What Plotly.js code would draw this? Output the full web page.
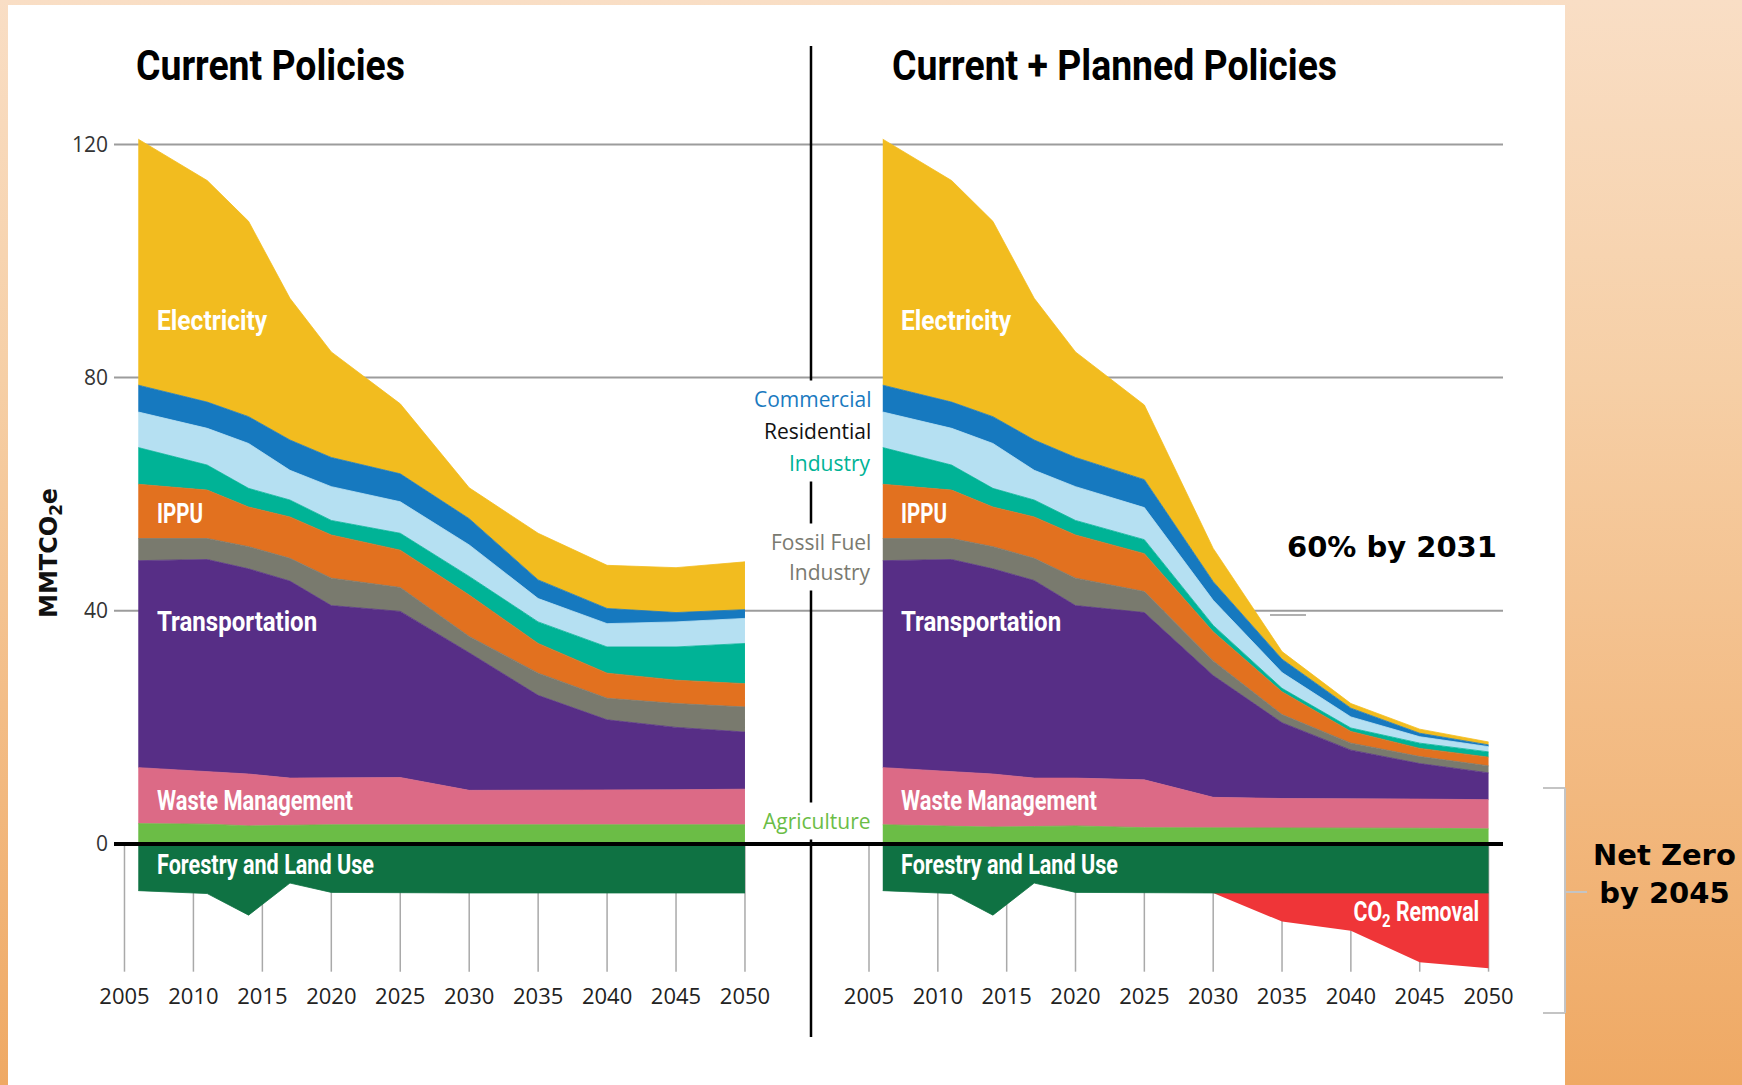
<!DOCTYPE html>
<html>
<head>
<meta charset="utf-8">
<script src="https://cdn.plot.ly/plotly-3.0.1.min.js"></script>
<style>
  html, body { margin: 0; padding: 0; width: 1742px; height: 1085px; overflow: hidden;
    background: linear-gradient(to bottom, #f9dec5 0%, #f6cfa6 35%, #f3bd87 65%, #efa964 100%); }
  #chart { width: 1742px; height: 1085px; }
</style>
</head>
<body>
<div id="chart"></div>
<script>
// ---------------- DATA ----------------
const years = [2006, 2011, 2014, 2017, 2020, 2025, 2030, 2035, 2040, 2045, 2050];
const tickYears = [2005, 2010, 2015, 2020, 2025, 2030, 2035, 2040, 2045, 2050];
const tickLabels = ['2005', '2010', '2015', '2020', '2025', '2030', '2035', '2040', '2045', '2050'];
const yTicks = [0, 40, 80, 120];
const panelTitles = ['Current Policies', 'Current + Planned Policies'];

// Current Policies (MMTCO2e per sector)
const cpAgriculture    = [3.5, 3.4, 3.1, 3.2, 3.3, 3.3, 3.3, 3.3, 3.3, 3.3, 3.3];
const cpWaste          = [9.6, 9.0, 8.9, 8.1, 8.0, 8.1, 5.9, 5.9, 5.9, 6.0, 6.1];
const cpTransportation = [35.5, 36.4, 35.2, 33.8, 29.6, 28.5, 23.6, 16.3, 12.1, 10.7, 9.8];
const cpFossilFuel     = [3.8, 3.6, 3.8, 3.9, 4.7, 4.1, 2.8, 3.8, 3.7, 4.1, 4.3];
const cpIPPU           = [9.3, 8.3, 6.8, 7.1, 7.4, 6.4, 7.1, 5.1, 4.3, 4.0, 4.0];
const cpIndustry       = [6.3, 4.3, 3.2, 2.9, 2.5, 2.9, 3.2, 3.7, 4.5, 5.7, 6.9];
const cpResidential    = [6.1, 6.3, 7.7, 5.1, 5.8, 5.4, 5.4, 4.0, 4.0, 4.3, 4.3];
const cpCommercial     = [4.6, 4.5, 4.6, 5.2, 5.0, 4.8, 4.5, 3.2, 2.6, 1.6, 1.5];
const cpElectricity    = [42.2, 38.0, 33.5, 24.3, 18.1, 12.0, 5.3, 8.0, 7.4, 7.7, 8.2];
const cpForestry       = [-8.0, -8.5, -12.2, -6.7, -8.3, -8.4, -8.4, -8.4, -8.4, -8.4, -8.4];

// Current + Planned Policies
const ppAgriculture    = [3.3, 3.1, 2.9, 3.0, 3.1, 2.8, 2.8, 2.7, 2.7, 2.7, 2.6];
const ppWaste          = [9.8, 9.3, 9.1, 8.3, 8.2, 8.2, 5.2, 5.1, 5.1, 5.0, 5.0];
const ppTransportation = [35.5, 36.4, 35.2, 33.9, 29.6, 28.7, 20.9, 13.0, 8.3, 6.1, 4.6];
const ppFossilFuel     = [3.8, 3.6, 3.8, 3.8, 4.7, 3.6, 2.5, 1.4, 1.2, 1.2, 1.2];
const ppIPPU           = [9.3, 8.3, 6.8, 7.1, 7.4, 6.5, 5.0, 3.9, 2.0, 1.4, 1.5];
const ppIndustry       = [6.3, 4.3, 3.2, 2.9, 2.5, 2.4, 1.1, 0.6, 0.6, 0.9, 0.9];
const ppResidential    = [6.1, 6.3, 7.7, 5.1, 5.8, 5.5, 4.3, 2.7, 1.9, 1.1, 0.9];
const ppCommercial     = [4.6, 4.5, 4.6, 5.2, 5.0, 4.8, 3.2, 2.3, 1.5, 0.6, 0.3];
const ppElectricity    = [42.2, 38.0, 33.5, 24.3, 18.1, 12.8, 5.7, 1.3, 0.8, 0.7, 0.5];
const ppForestry       = [-8.0, -8.5, -12.2, -6.7, -8.3, -8.4, -8.4, -8.4, -8.4, -8.4, -8.4];
const ppCO2Removal     = [0, 0, 0, 0, 0, 0, 0, -4.9, -6.5, -11.9, -12.9];

// ---------------- STYLE ----------------
const colors = {
  Agriculture: '#6bbd46', Waste: '#dc6a86', Transportation: '#572e86', FossilFuel: '#797a6e',
  IPPU: '#e2711f', Industry: '#00b396', Residential: '#b5e0f2', Commercial: '#1679bf',
  Electricity: '#f2bc1f', Forestry: '#0f7243', CO2Removal: '#ef3538'
};
const W = 1742, H = 1085;
const px = x => x / W;
const py = y => 1 - y / H;
const COND = 'Roboto, "Liberation Sans Narrow", sans-serif';
const tickLineBottom = -21.9;

function area(name, y, xa, ya, group, lw) {
  const c = colors[name];
  return { type: 'scatter', mode: 'lines', x: years, y: y, xaxis: xa, yaxis: ya,
    stackgroup: group, fillcolor: c, line: { color: c, width: lw === undefined ? 0.8 : lw },
    hoverinfo: 'skip', showlegend: false, name: name };
}

const traces = [];
const cpPos = [['Agriculture', cpAgriculture], ['Waste', cpWaste], ['Transportation', cpTransportation],
  ['FossilFuel', cpFossilFuel], ['IPPU', cpIPPU], ['Industry', cpIndustry], ['Residential', cpResidential],
  ['Commercial', cpCommercial], ['Electricity', cpElectricity]];
const ppPos = [['Agriculture', ppAgriculture], ['Waste', ppWaste], ['Transportation', ppTransportation],
  ['FossilFuel', ppFossilFuel], ['IPPU', ppIPPU], ['Industry', ppIndustry], ['Residential', ppResidential],
  ['Commercial', ppCommercial], ['Electricity', ppElectricity]];
cpPos.forEach(([n, v]) => traces.push(area(n, v, 'x', 'y', 'cpPos')));
traces.push(area('Forestry', cpForestry, 'x', 'y', 'cpNeg'));
ppPos.forEach(([n, v]) => traces.push(area(n, v, 'x2', 'y2', 'ppPos')));
traces.push(area('Forestry', ppForestry, 'x2', 'y2', 'ppNeg'));
traces.push(area('CO2Removal', ppCO2Removal, 'x2', 'y2', 'ppNeg', 0));

// ---------------- LAYOUT ----------------
const yRange = [-22.47, 144.77];
const yDomain = [py(975), 1];
const xTickFont = { family: '"Open Sans", sans-serif', size: 22, color: '#222' };
const commonX = { tickvals: tickYears, ticktext: tickLabels, showgrid: false, zeroline: false,
  showline: false, ticks: '', tickfont: xTickFont, fixedrange: true, ticklabelstandoff: 6 };
const commonY = { range: yRange, domain: yDomain, showgrid: false, zeroline: false, showline: false,
  ticks: '', tickvals: yTicks, fixedrange: true };

const shapes = [];
shapes.push({ type: 'rect', xref: 'paper', yref: 'paper', x0: px(8), x1: px(1565), y0: 0, y1: py(5),
  fillcolor: '#ffffff', line: { width: 0 }, layer: 'below' });
yTicks.filter(v => v !== 0).forEach(v => shapes.push({ type: 'line', xref: 'paper', yref: 'y',
  x0: px(114), x1: px(1503), y0: v, y1: v, line: { color: '#9c9c9c', width: 2 }, layer: 'below' }));
shapes.push({ type: 'line', xref: 'paper', yref: 'y', x0: px(1270), x1: px(1306), y0: 39.3, y1: 39.3,
  line: { color: '#b0b0b0', width: 2 }, layer: 'below' });
[['x', 'y'], ['x2', 'y2']].forEach(([xa, ya]) => tickYears.forEach(t => shapes.push({ type: 'line',
  xref: xa, yref: ya, x0: t, x1: t, y0: tickLineBottom, y1: 0, line: { color: '#a9a9a9', width: 1.5 }, layer: 'below' })));
shapes.push({ type: 'line', xref: 'paper', yref: 'y', x0: px(114), x1: px(1503), y0: 0, y1: 0,
  line: { color: '#000000', width: 4 }, layer: 'above' });
shapes.push({ type: 'line', xref: 'paper', yref: 'paper', x0: px(811), x1: px(811), y0: py(1037), y1: py(46),
  line: { color: '#000000', width: 2.5 }, layer: 'above' });
const br = { color: '#c4c4c4', width: 2 };
shapes.push({ type: 'line', xref: 'paper', yref: 'paper', x0: px(1543), x1: px(1565), y0: py(788), y1: py(788), line: br });
shapes.push({ type: 'line', xref: 'paper', yref: 'paper', x0: px(1565), x1: px(1565), y0: py(788), y1: py(1013), line: br });
shapes.push({ type: 'line', xref: 'paper', yref: 'paper', x0: px(1543), x1: px(1565), y0: py(1013), y1: py(1013), line: br });
shapes.push({ type: 'line', xref: 'paper', yref: 'paper', x0: px(1565), x1: px(1587), y0: py(892), y1: py(892), line: br });

const ann = [];
const condense = [];
function label(text, x, y, opts, squeeze) {
  ann.push(Object.assign({ text: text, xref: 'paper', yref: 'paper', x: px(x), y: py(y), showarrow: false,
    xanchor: 'left', yanchor: 'middle' }, opts));
  if (squeeze) condense.push({ i: ann.length - 1, s: squeeze, origin: (opts.xanchor === 'right') ? 'right' : 'left' });
}
const titleFont = { family: COND, size: 42, color: '#000', weight: 'bold' };
label(panelTitles[0], 134, 66, { font: titleFont }, 0.89);
label(panelTitles[1], 890, 66, { font: titleFont }, 0.89);

const inFont = { family: COND, size: 27, color: '#ffffff', weight: 'bold' };
[155, 899].forEach(x0 => {
  label('Electricity', x0, 321, { font: inFont }, 0.91);
  label('IPPU', x0, 514, { font: inFont }, 0.76);
  label('Transportation', x0, 622, { font: inFont }, 0.89);
  label('Waste Management', x0, 801, { font: inFont }, 0.81);
  label('Forestry and Land Use', x0, 865, { font: inFont }, 0.80);
});
label('CO<sub>2</sub> Removal', 1481, 914, { font: inFont, xanchor: 'right' }, 0.79);

const legFont = c => ({ family: '"Open Sans", sans-serif', size: 21, color: c, weight: 500 });
const legOpts = c => ({ font: legFont(c), xanchor: 'right', bgcolor: '#ffffff', borderpad: 4 });
label('Commercial', 876, 399, legOpts('#1a7abf'));
label('Residential', 876, 431, legOpts('#111111'));
label('Industry', 876, 463, legOpts('#00b396'));
label('Fossil Fuel', 876, 542, legOpts('#7a7a70'));
label('Industry', 876, 572, legOpts('#7a7a70'));
label('Agriculture', 876, 821, legOpts('#6bbd46'));

const boldFont = { family: '"DejaVu Sans", sans-serif', size: 29, color: '#000', weight: 'bold' };
label('60% by 2031', 1392, 547, { font: boldFont, xanchor: 'center' });
label('Net Zero<br>by 2045', 1664, 874, { font: boldFont, xanchor: 'center', align: 'center' });
label('MMTCO<sub>2</sub>e', 50, 553, { font: { family: '"DejaVu Sans", sans-serif', size: 24, color: '#111', weight: 'bold' },
  xanchor: 'center', textangle: -90 });

const layout = {
  width: W, height: H, margin: { l: 0, r: 0, t: 0, b: 0 },
  paper_bgcolor: 'rgba(0,0,0,0)', plot_bgcolor: 'rgba(0,0,0,0)', showlegend: false,
  xaxis: Object.assign({}, commonX, { domain: [px(114), px(760)], range: [2004.24, 2051.09], anchor: 'y' }),
  yaxis: Object.assign({}, commonY, { anchor: 'x', showticklabels: true, ticklabelstandoff: 5,
    tickfont: { family: '"Open Sans", sans-serif', size: 21, color: '#333' } }),
  xaxis2: Object.assign({}, commonX, { domain: [px(850), px(1503)], range: [2003.62, 2051.05], anchor: 'y2' }),
  yaxis2: Object.assign({}, commonY, { anchor: 'x2', showticklabels: false }),
  shapes: shapes, annotations: ann
};

Plotly.newPlot('chart', traces, layout, { staticPlot: true, displayModeBar: false }).then(gd => {
  condense.forEach(c => {
    const t = gd.querySelector('.annotation[data-index="' + c.i + '"] text.annotation-text');
    if (t) {
      t.style.transformBox = 'fill-box';
      t.style.transformOrigin = c.origin + ' center';
      t.style.transform = 'scaleX(' + c.s + ')';
    }
  });
});
</script>
</body>
</html>
